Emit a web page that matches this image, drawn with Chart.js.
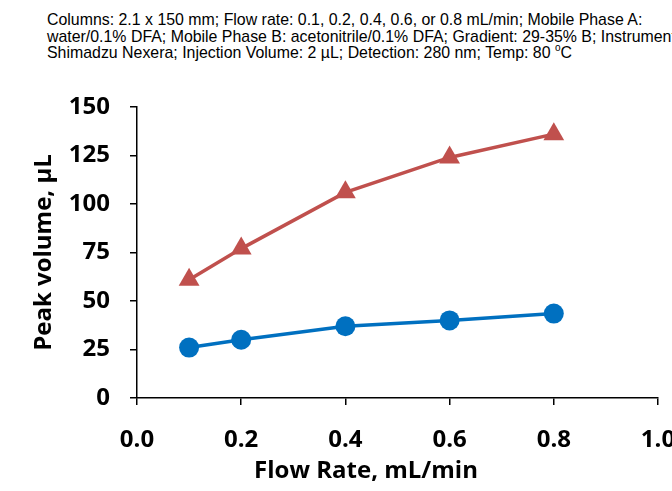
<!DOCTYPE html>
<html>
<head>
<meta charset="utf-8">
<script src="https://cdn.jsdelivr.net/npm/chart.js@4"></script>
<style>
    html, body { margin: 0; padding: 0; background: #fff; overflow: hidden; width: 672px; height: 491px; }
    #note {
        position: absolute; left: 47px; top: 12px;
        font-family: Arial, "Liberation Sans", sans-serif; font-size: 15.9px; line-height: 16.7px;
        color: #000; white-space: nowrap;
    }
    #note sup { font-size: 10px; vertical-align: 7px; line-height: 0; }
    #wrap { position: absolute; left: 0; top: 60px; }
</style>
</head>
<body>
<div id="note">Columns: 2.1 x 150 mm; Flow rate: 0.1, 0.2, 0.4, 0.6, or 0.8 mL/min; Mobile Phase A:<br>water/0.1% DFA; Mobile Phase B: acetonitrile/0.1% DFA; Gradient: 29-35% B; Instrument:<br>Shimadzu Nexera; Injection Volume: 2 µL; Detection: 280 nm; Temp: 80 <sup>o</sup>C</div>
<div id="wrap"><canvas id="myChart" width="720" height="431"></canvas></div>
<script>
// valeurs
var flowRate = [0.1, 0.2, 0.4, 0.6, 0.8];
var blueVolume = [26, 30, 37, 40, 43.5];
var redVolume = [61, 77, 106, 124, 136];
var xTickLabels = ["0.0", "0.2", "0.4", "0.6", "0.8", "1.0"];
var yTickValues = [0, 25, 50, 75, 100, 125, 150];

var fontFamily = "'Open Sans', sans-serif";

function toPoints(xs, ys) {
    var pts = [];
    for (var i = 0; i < xs.length; i++) {
        pts.push({ x: xs[i], y: ys[i] });
    }
    return pts;
}

// titre de l'axe x, décalé à gauche comme dans l'original
var xTitlePlugin = {
    id: "xTitle",
    afterDraw: function (chart) {
        var ctx = chart.ctx;
        var area = chart.chartArea;
        ctx.save();
        ctx.font = "bold 24px " + fontFamily;
        ctx.fillStyle = "#000";
        ctx.textAlign = "center";
        ctx.textBaseline = "middle";
        ctx.fillText("Flow Rate, mL/min", area.left + 229, area.bottom + 73);
        ctx.restore();
    },
};

var ctx = document.getElementById("myChart").getContext("2d");
var myChart = new Chart(ctx, {
    type: "line",
    data: {
        datasets: [
            {
                label: "Series 1",
                data: toPoints(flowRate, blueVolume),
                borderColor: "#0070C0",
                backgroundColor: "#0070C0",
                borderWidth: 3.5,
                pointStyle: "circle",
                pointRadius: 10,
                pointBorderWidth: 0,
            },
            {
                label: "Series 2",
                data: toPoints(flowRate, redVolume),
                borderColor: "#C0504D",
                backgroundColor: "#C0504D",
                borderWidth: 3.5,
                pointStyle: "triangle",
                pointRadius: 12,
                pointBorderWidth: 0,
            },
        ],
    },
    options: {
        responsive: false,
        animation: false,
        events: [],
        layout: { padding: { left: 0, top: 47, right: 62, bottom: 0 } },
        plugins: { legend: { display: false }, tooltip: { enabled: false } },
        scales: {
            x: {
                type: "linear",
                min: 0,
                max: 1,
                afterFit: function (scale) { scale.height = 93; },
                afterBuildTicks: function (scale) {
                    scale.ticks = xTickLabels.map(function (t) { return { value: parseFloat(t) }; });
                },
                ticks: {
                    padding: 21,
                    color: "#000",
                    font: { family: fontFamily, size: 24, weight: "bold" },
                    maxRotation: 0,
                    callback: function (v, i) { return xTickLabels[i]; },
                },
                grid: { drawOnChartArea: false, color: "#000", lineWidth: 1.5, tickLength: 7 },
                border: { color: "#000", width: 1.5 },
            },
            y: {
                min: 0,
                max: 150,
                afterFit: function (scale) { scale.width = 137; },
                afterBuildTicks: function (scale) {
                    scale.ticks = yTickValues.map(function (v) { return { value: v }; });
                },
                ticks: {
                    padding: 20,
                    color: "#000",
                    font: { family: fontFamily, size: 24, weight: "bold" },
                },
                grid: { drawOnChartArea: false, color: "#000", lineWidth: 1.5, tickLength: 7 },
                border: { color: "#000", width: 1.5 },
                title: {
                    display: true,
                    text: "Peak volume, µL",
                    color: "#000",
                    font: { family: fontFamily, size: 24, weight: "bold" },
                    padding: { top: 30, bottom: 0 },
                },
            },
        },
    },
    plugins: [xTitlePlugin],
});
</script>
</body>
</html>
